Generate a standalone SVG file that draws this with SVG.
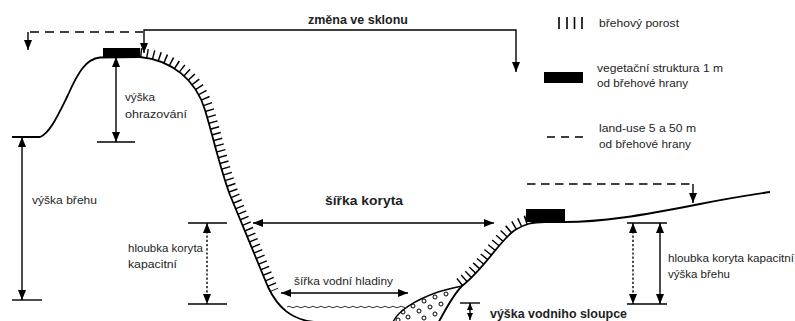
<svg xmlns="http://www.w3.org/2000/svg" width="795" height="321" viewBox="0 0 795 321">
<style>
.t{font-family:"Liberation Sans",Arial,sans-serif;font-size:11px;fill:#1e1e1e}
.b{font-family:"Liberation Sans",Arial,sans-serif;font-size:12.5px;font-weight:bold;fill:#1e1e1e}
.ln{fill:none;stroke:#000;stroke-width:1.4}
.gr{fill:none;stroke:#000;stroke-width:1.8}
.dot{stroke-dasharray:2.2 2}
.dash{stroke-dasharray:9 6}
.hat{fill:none;stroke:#000;stroke-width:18;stroke-dasharray:1.4 4.6}
.veg{fill:#000}
.arr{marker-start:url(#ah);marker-end:url(#ah)}
</style>
<defs>
<marker id="ah" viewBox="0 0 10 8" refX="10" refY="4" markerWidth="10" markerHeight="8" markerUnits="userSpaceOnUse" orient="auto-start-reverse"><path d="M0,0L10,4L0,8z" fill="#000"/></marker>
<marker id="ahs" viewBox="0 0 7 6" refX="7" refY="3" markerWidth="7" markerHeight="6" markerUnits="userSpaceOnUse" orient="auto-start-reverse"><path d="M0,0L7,3L0,6z" fill="#000"/></marker>
<clipPath id="clipL"><path d="M140,57 C172,60 196,80 205,110 C214,140 220,168 230,195 L270,292 L345,292 L345,20 L140,20 Z"/></clipPath>
<clipPath id="clipR"><path d="M462,286 C485,268 500,240 515,230 C525,224 532,222 545,222 L527,222 L527,150 L430,150 L430,286 Z"/></clipPath>
</defs>
<rect width="795" height="321" fill="#fff"/>

<g id="left-bank">
<path class="gr" d="M12,137 L40,137 C50,133 58,115 68,95 C78,72 86,59 100,57.5 L140,57"/>
<path class="hat" clip-path="url(#clipL)" d="M140,57 C172,60 196,80 205,110 C214,140 220,168 230,195 L270,292"/>
<path class="gr" stroke-width="2" d="M140,57 C172,60 196,80 205,110 C214,140 220,168 230,195 L268,287 C278,308 292,320 315,322 L335,324"/>
<rect class="veg" x="103" y="48" width="37" height="9"/>
</g>

<g id="channel-bed">
<path d="M393,322 C398,311 415,300 438,292 C448,289 455,287.5 462,286 L437,325 L393,325 Z" fill="#fff"/>
<g fill="none" stroke="#000" stroke-width="1">
<circle cx="446" cy="294" r="2"/><circle cx="435" cy="297" r="2"/><circle cx="424" cy="301" r="2"/><circle cx="413" cy="306" r="2"/><circle cx="403" cy="312" r="2"/>
<circle cx="441" cy="304" r="2"/><circle cx="430" cy="307" r="2"/><circle cx="419" cy="311" r="2"/><circle cx="408" cy="317" r="2"/>
<circle cx="435" cy="314" r="2"/><circle cx="424" cy="318" r="2"/><circle cx="398" cy="320" r="2"/>
</g>
<path class="ln" stroke-width="1.3" d="M393,322 C398,311 415,300 438,292 C448,289 455,287.5 462,286"/>
<path fill="none" stroke="#333" stroke-width="1" d="M287,307 q2,-1.6 4,0 t4,0 t4,0 t4,0 t4,0 t4,0 t4,0 t4,0 t4,0 t4,0 t4,0 t4,0 t4,0 t4,0 t4,0 t4,0 t4,0 t4,0 t4,0 t4,0 t4,0 t4,0 t4,0 t4,0 t4,0 t4,0 t4,0 t4,0 t4,0 t4,0"/>
</g>

<g id="right-bank">
<path class="hat" clip-path="url(#clipR)" d="M462,286 C485,268 500,240 515,230 C525,224 532,222 545,222"/>
<path class="gr" stroke-width="2" d="M437,325 C445,311 452,296 462,286 C485,268 500,240 515,230 C525,224 532,222 545,222 L565,222 C600,222 640,216 700,204 C730,198 750,195 770,192"/>
<rect class="veg" x="526" y="209" width="39" height="13"/>
</g>

<g id="legend-porost">
<g stroke="#000" stroke-width="1.6"><line x1="559" y1="17" x2="559" y2="29"/><line x1="567" y1="17" x2="567" y2="29"/><line x1="574.5" y1="17" x2="574.5" y2="29"/><line x1="582" y1="17" x2="582" y2="29"/></g>
<text class="t" x="599" y="27" textLength="80" lengthAdjust="spacingAndGlyphs">břehový porost</text>
</g>
<g id="legend-vegetace">
<rect class="veg" x="544" y="72" width="39" height="11"/>
<text class="t" x="597" y="72" textLength="126" lengthAdjust="spacingAndGlyphs">vegetační struktura 1 m</text>
<text class="t" x="597" y="87" textLength="91" lengthAdjust="spacingAndGlyphs">od břehové hrany</text>
</g>
<g id="legend-landuse">
<line x1="547" y1="137" x2="584" y2="137" stroke="#000" stroke-width="1.4" stroke-dasharray="8 6"/>
<text class="t" x="599" y="132" textLength="97" lengthAdjust="spacingAndGlyphs">land-use 5 a 50 m</text>
<text class="t" x="599" y="148" textLength="92" lengthAdjust="spacingAndGlyphs">od břehové hrany</text>
</g>

<g id="connectors">
<line class="ln dash" x1="30" y1="32" x2="143" y2="32"/>
<line class="ln" x1="28" y1="32" x2="28" y2="50" marker-end="url(#ah)"/>
<path class="ln" d="M144,53 L144,30 L516,30 L516,72" marker-start="url(#ah)" marker-end="url(#ah)"/>
<line class="ln" x1="527" y1="184" x2="693" y2="184" stroke-dasharray="8.5 5.5"/>
<line class="ln" x1="693" y1="184" x2="693" y2="203" marker-end="url(#ah)"/>
<line class="ln" x1="12" y1="300" x2="42" y2="300"/>
<line class="ln arr" x1="22" y1="137" x2="22" y2="300"/>
<line class="ln" x1="97" y1="142" x2="135" y2="142"/>
<line class="ln arr" x1="116" y1="57" x2="116" y2="142"/>
<line class="ln" x1="188" y1="223" x2="227" y2="223"/>
<line class="ln" x1="188" y1="304" x2="227" y2="304"/>
<line class="ln dot arr" x1="207" y1="223" x2="207" y2="304"/>
<line class="ln" x1="627" y1="223" x2="667" y2="223"/>
<line class="ln" x1="627" y1="304" x2="667" y2="304"/>
<line class="ln dot arr" x1="633" y1="223" x2="633" y2="304"/>
<line class="ln arr" x1="660" y1="223" x2="660" y2="304"/>
<line class="ln arr" x1="253" y1="223" x2="494" y2="223"/>
<line class="ln arr" x1="281" y1="293" x2="408" y2="293"/>
<line class="ln" x1="460" y1="303" x2="480" y2="303"/>
<line class="ln" x1="470" y1="303" x2="470" y2="320" marker-start="url(#ahs)" marker-end="url(#ahs)"/>
</g>

<g id="labels">
<text class="b" x="308" y="24" textLength="100" lengthAdjust="spacingAndGlyphs">změna ve sklonu</text>
<text class="t" x="125" y="101" textLength="30" lengthAdjust="spacingAndGlyphs">výška</text>
<text class="t" x="125" y="118" textLength="62" lengthAdjust="spacingAndGlyphs">ohrazování</text>
<text class="t" x="32" y="204" textLength="65" lengthAdjust="spacingAndGlyphs">výška břehu</text>
<text class="t" x="128" y="252" textLength="75" lengthAdjust="spacingAndGlyphs">hloubka koryta</text>
<text class="t" x="128" y="268" textLength="49" lengthAdjust="spacingAndGlyphs">kapacitní</text>
<text class="b" x="325" y="205" textLength="78" lengthAdjust="spacingAndGlyphs">šířka koryta</text>
<text class="t" x="294" y="285" textLength="99" lengthAdjust="spacingAndGlyphs">šířka vodní hladiny</text>
<text class="t" x="668" y="262" textLength="126" lengthAdjust="spacingAndGlyphs">hloubka koryta kapacitní</text>
<text class="t" x="668" y="278" textLength="62" lengthAdjust="spacingAndGlyphs">výška břehu</text>
<text class="b" x="490" y="318" textLength="137" lengthAdjust="spacingAndGlyphs">výška vodniho sloupce</text>
</g>
</svg>
